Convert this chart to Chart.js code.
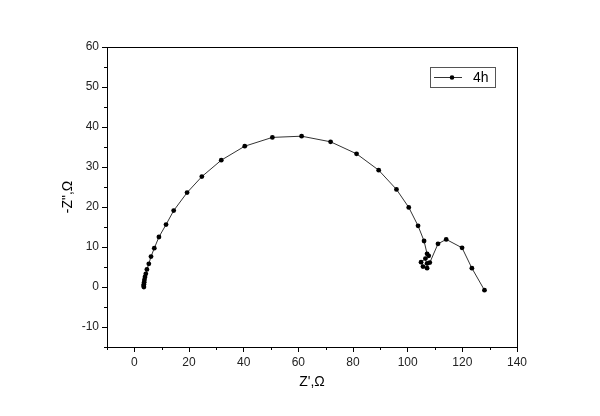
<!DOCTYPE html>
<html>
<head>
<meta charset="utf-8">
<script src="https://cdn.jsdelivr.net/npm/chart.js@4/dist/chart.umd.min.js"></script>
<style>
  html, body { margin: 0; padding: 0; background: #fff; }
  #wrap { width: 600px; height: 416px; }
</style>
</head>
<body>
<div id="wrap"><canvas id="nyquist"></canvas></div>
<script>
// Z' (real part) and -Z'' (imaginary part), ohm
const zRe = [3.5, 3.4, 3.5, 3.6, 3.7, 3.9, 4.2, 4.6, 5.3, 6.1, 7.3, 9.0, 11.6, 14.4,
  19.3, 24.7, 31.8, 40.4, 50.5, 61.2, 71.8, 81.3, 89.4, 95.9, 100.4, 103.8, 106.0,
  107.1, 107.7, 106.5, 104.9, 105.6, 107.1, 107.1, 108.1, 111.1, 114.1, 119.9, 123.5, 128.1];
const zIm = [0.0, 0.3, 0.7, 1.2, 1.8, 2.5, 3.3, 4.4, 5.8, 7.6, 9.7, 12.5, 15.6, 19.1,
  23.6, 27.6, 31.7, 35.2, 37.4, 37.7, 36.3, 33.3, 29.2, 24.4, 19.9, 15.3, 11.5,
  8.3, 7.8, 7.1, 6.2, 5.1, 4.7, 5.9, 6.1, 10.8, 11.9, 9.8, 4.7, -0.8];
const seriesLabel = "4h";

const xTicks = [0, 20, 40, 60, 80, 100, 120, 140];
const xMinor = [-10, 10, 30, 50, 70, 90, 110, 130];
const yTicks = [-10, 0, 10, 20, 30, 40, 50, 60];
const yMinor = [-15, -5, 5, 15, 25, 35, 45, 55];

const FONT = "'Liberation Sans', Arial, sans-serif";

// box around plot + minor ticks + legend
const framePlugin = {
  id: "frame",
  afterDraw(chart) {
    const { ctx, chartArea: a, scales } = chart;
    ctx.save();
    ctx.strokeStyle = "#000";
    ctx.lineWidth = 1;
    ctx.strokeRect(a.left + 0.5, a.top + 0.5, a.right - a.left, a.bottom - a.top);
    ctx.beginPath();
    xMinor.forEach(v => {
      const px = Math.round(scales.x.getPixelForValue(v)) + 0.5;
      ctx.moveTo(px, a.bottom); ctx.lineTo(px, a.bottom + 3);
    });
    yMinor.forEach(v => {
      const py = Math.round(scales.y.getPixelForValue(v)) + 0.5;
      ctx.moveTo(a.left, py); ctx.lineTo(a.left - 3, py);
    });
    ctx.stroke();

    // legend
    const ds = chart.data.datasets[0];
    const bx = a.right - 87, by = a.top + 20;
    ctx.strokeStyle = "#555";
    ctx.strokeRect(bx + 0.5, by + 0.5, 65, 20);
    ctx.strokeStyle = ds.borderColor;
    ctx.beginPath();
    ctx.moveTo(bx + 4, by + 10.5); ctx.lineTo(bx + 32, by + 10.5);
    ctx.stroke();
    ctx.fillStyle = ds.pointBackgroundColor;
    ctx.beginPath();
    ctx.arc(bx + 22, by + 10.5, 2.3, 0, Math.PI * 2);
    ctx.fill();
    ctx.fillStyle = "#000";
    ctx.font = "14px " + FONT;
    ctx.textBaseline = "middle";
    ctx.fillText(ds.label, bx + 43, by + 11);
    ctx.restore();
  }
};

new Chart(document.getElementById("nyquist"), {
  type: "scatter",
  data: {
    datasets: [{
      label: seriesLabel,
      data: zRe.map((x, i) => ({ x: x, y: zIm[i] })),
      showLine: true,
      borderColor: "#333",
      borderWidth: 1,
      pointBackgroundColor: "#000",
      pointBorderColor: "#000",
      pointRadius: 2.4,
      pointBorderWidth: 0,
      tension: 0
    }]
  },
  options: {
    responsive: true,
    maintainAspectRatio: false,
    animation: false,
    layout: { padding: { top: 47, right: 83, left: 0, bottom: 0 } },
    plugins: { legend: { display: false }, tooltip: { enabled: false } },
    scales: {
      x: {
        type: "linear",
        min: -10, max: 140,
        afterBuildTicks: s => { s.ticks = xTicks.map(v => ({ value: v })); },
        afterFit: s => { s.height = 69; },
        grid: { drawOnChartArea: false, tickLength: 5, tickColor: "#000" },
        border: { color: "#000", width: 1 },
        ticks: { color: "#222", padding: 3, font: { family: FONT, size: 12 }, maxRotation: 0 },
        title: { display: true, text: "Z',\u03A9", color: "#000", font: { family: FONT, size: 14 }, padding: { bottom: 25 } }
      },
      y: {
        type: "linear",
        min: -15, max: 60,
        afterBuildTicks: s => { s.ticks = yTicks.map(v => ({ value: v })); },
        afterFit: s => { s.width = 107; },
        grid: { drawOnChartArea: false, tickLength: 5, tickColor: "#000" },
        border: { color: "#000", width: 1 },
        ticks: { color: "#222", padding: 3, font: { family: FONT, size: 12 } },
        title: { display: true, text: "-Z\",\u03A9", color: "#000", font: { family: FONT, size: 14 }, padding: { top: 60 } }
      }
    }
  },
  plugins: [framePlugin]
});
</script>
</body>
</html>
